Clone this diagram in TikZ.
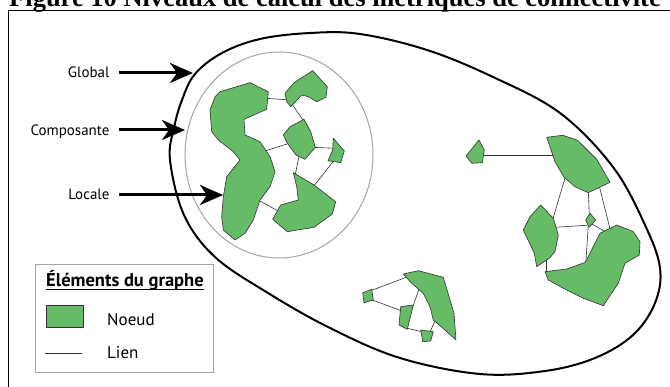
\documentclass[tikz,border=0pt]{standalone}
\usepackage{fontspec}
\setmainfont{PT Sans}
\newfontfamily\titlefont{Liberation Serif}
\usepackage{tikz}
\usetikzlibrary{arrows.meta}

\definecolor{vert}{RGB}{102,187,102}
\definecolor{contour}{RGB}{50,50,50}
\definecolor{gris}{RGB}{165,165,165}

\tikzset{
  noeud/.style={fill=vert, draw=contour, line width=0.6pt, line join=round},
  lien/.style={draw=contour, line width=0.6pt},
  fleche/.style={line width=3pt, -{Stealth[length=23pt,width=20pt,inset=7pt]}},
  niveau/.style={anchor=base east, font=\fontsize{15}{18}\selectfont},
  legende/.style={anchor=base west, font=\fontsize{17}{20}\selectfont}
}

\begin{document}
\begin{tikzpicture}[x=1pt,y=-1pt]

\useasboundingbox (0,0) rectangle (670,387);

% titre (coupe en haut)
\node[anchor=base west, inner sep=0pt, font=\titlefont\fontsize{26.5}{30}\selectfont\bfseries] (titre) at (9,6.5)
  {Figure 10 Niveaux de calcul des métriques de connectivité};
\draw[line width=1pt] (8,700) -- (8,10.5) -- (700,10.5);

% niveau global
\draw[line width=2pt] plot[smooth cycle, tension=0.6] coordinates {
  (170,160) (174,128) (182,100) (195,74) (222,53) (260,39) (310,33) (360,34)
  (427,50) (493,77) (560,113) (613,167) (645,225) (660,268) (655,303) (633,335)
  (595,358) (545,371) (480,374) (400,358) (330,328) (268,293) (215,257) (184,215)};

% composante
\draw[gris, line width=1pt] (279,155) ellipse (94 and 103);

% liens, composante de gauche
\draw[lien] (262,98) -- (290,100);
\draw[lien] (292,104) -- (305,123);
\draw[lien] (262,152) -- (290,143);
\draw[lien] (312,147.3) -- (336,148.3);
\draw[lien] (299,156) -- (295,176);
\draw[lien] (336,158) -- (313,187);
\draw[lien] (258,200) -- (280,212);

% noeuds, composante de gauche
\draw[noeud] (220,91.7) -- (250,82.7) -- (268.3,91.7) -- (266.7,109.3) -- (244,119.3)
  -- (245,135) -- (260,141.7) -- (270,156.7) -- (275,171.7) -- (270,186.7) -- (260,200)
  -- (253.3,220) -- (245,233.3) -- (235,240) -- (223.3,230) -- (221.7,216.7)
  -- (223.3,196.7) -- (226.7,176.7) -- (240,160) -- (233.3,151.7) -- (218.3,140)
  -- (211.7,131.7) -- (210,110) -- (215,96.7) -- cycle;
\draw[noeud] (285,93.3) -- (294,82.7) -- (312.7,70.7) -- (327.3,86.7) -- (326,97.3)
  -- (316.7,101.7) -- (308.3,96.7) -- (301.7,95) -- (290.7,106.7) -- (286.7,101.7) -- cycle;
\draw[noeud] (283.3,135) -- (290,126.7) -- (304,119.3) -- (310.7,131.7) -- (315.3,147.3)
  -- (305,159.3) -- (296,155) -- (287.3,143.3) -- cycle;
\draw[noeud] (333.3,138.3) -- (344.3,151) -- (340.7,162.7) -- (328,160.7) -- (332.7,150) -- cycle;
\draw[noeud] (293.3,172.7) -- (314,185) -- (335.7,201.7) -- (332.3,214) -- (314,227.3)
  -- (287.3,231.7) -- (272.7,219.3) -- (280.7,205) -- (298.3,200) -- (296.7,186.7) -- cycle;

% liens, composante de droite
\draw[lien] (482,155.7) -- (556,155.7);
\draw[lien] (565,178) -- (552,222);
\draw[lien] (588.3,190) -- (589.3,216);
\draw[lien] (599.3,186) -- (610,229);
\draw[lien] (555,227.3) -- (587,225.3);
\draw[lien] (588.3,225) -- (585.7,265);
\draw[lien] (592,224) -- (604,231);
\draw[lien] (546.7,256) -- (546.7,274);

% noeuds, composante de droite
\draw[noeud] (466,156) -- (479,140) -- (484.3,150) -- (482.3,162.7) -- (471.7,163.3) -- cycle;
\draw[noeud] (546.7,137.3) -- (562.7,135.3) -- (577.3,140) -- (596.7,159.3) -- (610,182.3)
  -- (588.3,192.7) -- (575,186.7) -- (564,177.3) -- (555,161.7) -- cycle;
\draw[noeud] (540.7,205) -- (553.3,218.3) -- (558.3,235) -- (555,251.7) -- (549.3,258.3)
  -- (536.7,266.7) -- (534.3,253.3) -- (523.3,230) -- (530,216.7) -- cycle;
\draw[noeud] (590,213.3) -- (595.7,220) -- (589,227.3) -- (585.7,220) -- cycle;
\draw[noeud] (545,271.7) -- (566.7,269) -- (585.3,262.3) -- (600,233.3) -- (616.7,225)
  -- (633.3,231.7) -- (640,241.7) -- (639.3,255) -- (625,263.3) -- (618.3,283.3)
  -- (603.3,305.7) -- (583.3,298.3) -- (563.3,288.3) -- (548.3,280) -- cycle;

% liens, composante du bas
\draw[lien] (370,291) -- (407,277);
\draw[lien] (371,299.5) -- (402,311);
\draw[lien] (412,309) -- (419,289);
\draw[lien] (406,328) -- (423,332);
\draw[lien] (429,334) -- (435,321);

% noeuds, composante du bas
\draw[noeud] (403.3,274) -- (418.3,270.7) -- (443.3,277.3) -- (454,313.3) -- (456,340)
  -- (445,330) -- (433.3,320) -- (430,306.7) -- (423.3,293.3) -- (411.7,283.3) -- cycle;
\draw[noeud] (362.7,292.7) -- (371.7,289.3) -- (373.3,300) -- (364,302.7) -- cycle;
\draw[noeud] (400.7,306.7) -- (413.3,305) -- (407.3,329.3) -- (399,325) -- cycle;
\draw[noeud] (420.7,330) -- (433.3,331.7) -- (430.7,341) -- (422.7,341.7) -- cycle;

% niveaux et fleches
\node[niveau] (global) at (113,78) {Global};
\node[niveau] (compo) at (113,136) {Composante};
\node[niveau] (locale) at (113,199.5) {Locale};
\coordinate (pglobal) at (193,73);
\coordinate (pcompo) at (185,130);
\coordinate (plocale) at (223,195);
\draw[fleche] (119,73) -- (pglobal);
\draw[fleche] (119,130) -- (pcompo);
\draw[fleche] (119,195) -- (plocale);

% legende
\draw[gris, line width=1pt, fill=white] (35,265) rectangle (213,373);
\node[anchor=base west, inner sep=0pt, font=\fontsize{18.5}{22}\selectfont\bfseries] (titreleg) at (46,286.5)
  {Éléments du graphe};
\draw[line width=0.9pt] (titreleg.base west) ++(0,3) -- ([yshift=-3pt]titreleg.base east);
\draw[noeud] (46,305) rectangle (83,327);
\node[legende, inner sep=0pt] (noeudleg) at (107,326) {Noeud};
\draw[lien] (45,353) -- (82,353);
\node[legende, inner sep=0pt] (lienleg) at (107,359) {Lien};

\end{tikzpicture}
\end{document}
